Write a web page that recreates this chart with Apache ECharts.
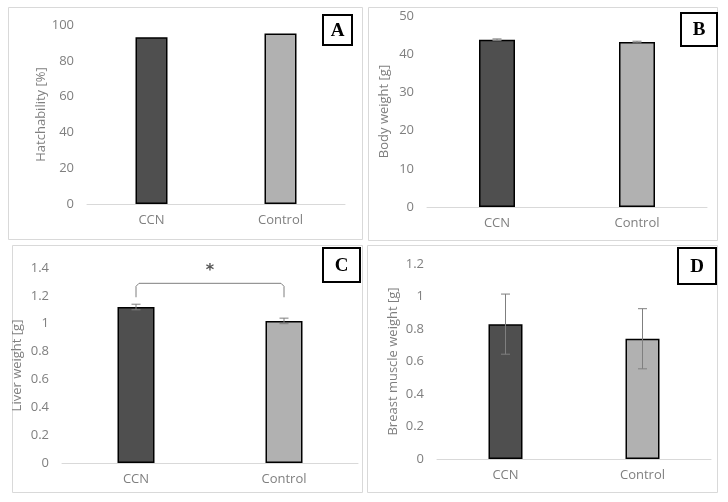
<!DOCTYPE html>
<html><head><meta charset="utf-8">
<script src="https://cdn.jsdelivr.net/npm/echarts@6/dist/echarts.min.js"></script>
<style>html,body{margin:0;padding:0;background:#fff}#c{width:728px;height:502px}</style>
</head><body><div id="c"></div>
<script>
// ---- data ----
const categories = ['CCN', 'Control'];
const hatchability = [93.2, 95.3];
const bodyWeight = [43.8, 43.2];
const bodyWeightErr = [0.2, 0.2];
const liverWeight = [1.12, 1.02];
const liverWeightErr = [0.02, 0.02];
const breastWeight = [0.83, 0.74];
const breastWeightErr = [0.185, 0.185];
const yNames = ['Hatchability [%]', 'Body weight [g]', 'Liver weight [g]', 'Breast muscle weight [g]'];
const yMax = [100, 50, 1.4, 1.2];
const yInterval = [20, 10, 0.2, 0.2];
const panelLetters = ['A', 'B', 'C', 'D'];
// significance bracket for panel C: [fromIndex, toIndex, bracketLevel, legBottom, starLevel]
const liverBracket = [[0, 1, 1.29, 1.19, 1.4]];
const liverSignificance = '*';

// ---- styles ----
const barColors = ['#4f4f4f', '#b1b1b1'];
const FONT = '"Open Sans", sans-serif';
const grids = [
  {left: 87, top: 25, width: 258, height: 179},
  {left: 427, top: 16, width: 280, height: 191},
  {left: 62, top: 268, width: 296, height: 195},
  {left: 437, top: 264, width: 274, height: 195}
];
const nameGaps = [39, 36, 38, 37];
const barWidths = [32, 36, 37, 34];
const panels = [[8.5, 7.5, 354, 232], [368.5, 7.5, 349, 233], [12.5, 245.5, 350, 247], [367.5, 245.5, 350, 247]];
const letterBoxes = [[323, 15, 29, 30], [681, 13, 36, 33], [323, 248, 37, 34], [678, 248, 38, 36]];

const chart = echarts.init(document.getElementById('c'), null, {renderer: 'canvas'});

const xAxes = grids.map((g, i) => ({
  type: 'category', gridIndex: i, data: categories,
  axisLine: {lineStyle: {color: '#d9d9d9', width: 1}},
  axisTick: {show: false},
  axisLabel: {color: '#7f7f7f', fontSize: 13, fontFamily: FONT, margin: 10}
}));
const yAxes = grids.map((g, i) => ({
  type: 'value', gridIndex: i, min: 0, max: yMax[i], interval: yInterval[i],
  name: yNames[i], nameLocation: 'middle', nameGap: nameGaps[i],
  nameTextStyle: {color: '#7f7f7f', fontSize: 13, fontFamily: FONT},
  axisLine: {show: false}, axisTick: {show: false}, splitLine: {show: false},
  axisLabel: {color: '#7f7f7f', fontSize: 13, fontFamily: FONT, margin: 13}
}));

function barSeries(i, values) {
  return {
    type: 'bar', xAxisIndex: i, yAxisIndex: i, barWidth: barWidths[i],
    data: values.map((v, k) => ({value: v, itemStyle: {color: barColors[k]}})),
    itemStyle: {borderColor: '#000', borderWidth: 1.5},
    silent: true
  };
}
function errSeries(i, values, errs) {
  return {
    type: 'custom', xAxisIndex: i, yAxisIndex: i, z: 5, silent: true,
    encode: {x: 0, y: [1, 2]},
    data: values.map((v, k) => [k, v - errs[k], v + errs[k]]),
    renderItem(params, api) {
      const lo = api.coord([api.value(0), api.value(1)]);
      const hi = api.coord([api.value(0), api.value(2)]);
      const w = 4.5;
      const style = {stroke: '#7f7f7f', lineWidth: 1, fill: null};
      return {type: 'group', children: [
        {type: 'line', shape: {x1: hi[0], y1: hi[1], x2: lo[0], y2: lo[1]}, style},
        {type: 'line', shape: {x1: hi[0] - w, y1: hi[1], x2: hi[0] + w, y2: hi[1]}, style},
        {type: 'line', shape: {x1: lo[0] - w, y1: lo[1], x2: lo[0] + w, y2: lo[1]}, style}
      ]};
    }
  };
}
const bracketSeries = {
  type: 'custom', xAxisIndex: 2, yAxisIndex: 2, z: 6, silent: true,
  encode: {x: [0, 1], y: [2, 3, 4]},
  data: liverBracket,
  renderItem(params, api) {
    const a = api.coord([api.value(0), api.value(2)]);
    const b = api.coord([api.value(1), api.value(2)]);
    const aLow = api.coord([api.value(0), api.value(3)]);
    const starY = api.coord([api.value(0), api.value(4)])[1];
    const starX = (a[0] + b[0]) / 2;
    const r = 3;
    return {type: 'group', children: [
      {type: 'polyline', shape: {points: [[aLow[0], aLow[1]], [a[0], a[1] + r], [a[0] + r, a[1]], [b[0] - r, b[1]], [b[0], b[1] + r], [b[0], aLow[1]]]},
        style: {stroke: '#7f7f7f', lineWidth: 1, fill: null}},
      {type: 'text', x: starX, y: starY + 3,
        style: {text: liverSignificance, fill: '#555', font: 'bold 16px "DejaVu Sans", sans-serif', textAlign: 'center', textVerticalAlign: 'middle'}}
    ]};
  }
};

const graphic = [];
panels.forEach(p => graphic.push({type: 'rect', z: -10, shape: {x: p[0], y: p[1], width: p[2], height: p[3]},
  style: {fill: '#fff', stroke: '#d9d9d9', lineWidth: 1}}));
letterBoxes.forEach((b, i) => {
  graphic.push({type: 'rect', z: 100, shape: {x: b[0], y: b[1], width: b[2], height: b[3]},
    style: {fill: '#fff', stroke: '#000', lineWidth: 2}});
  graphic.push({type: 'text', z: 101, x: b[0] + b[2] / 2, y: b[1] + b[3] / 2 + 1,
    style: {text: panelLetters[i], fill: '#000', font: 'bold 19px "Liberation Serif", serif', textAlign: 'center', textVerticalAlign: 'middle'}});
});

chart.setOption({
  animation: false,
  backgroundColor: '#fff',
  grid: grids,
  xAxis: xAxes,
  yAxis: yAxes,
  graphic,
  series: [
    barSeries(0, hatchability),
    barSeries(1, bodyWeight), errSeries(1, bodyWeight, bodyWeightErr),
    barSeries(2, liverWeight), errSeries(2, liverWeight, liverWeightErr), bracketSeries,
    barSeries(3, breastWeight), errSeries(3, breastWeight, breastWeightErr)
  ]
});
</script></body></html>
